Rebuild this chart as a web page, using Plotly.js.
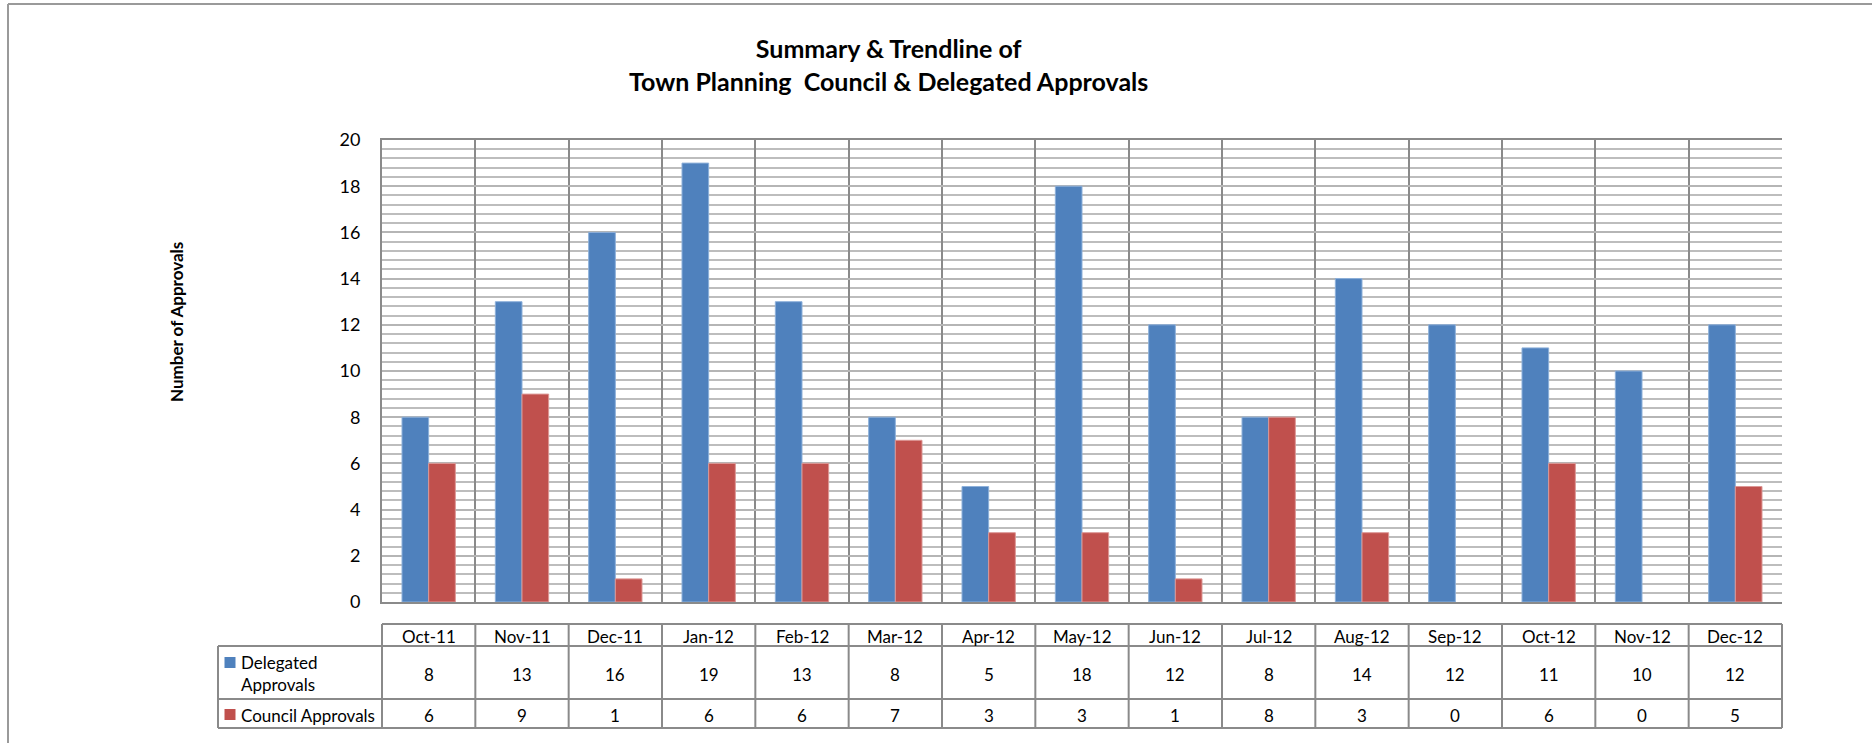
<!DOCTYPE html>
<html>
<head>
<meta charset="utf-8">
<script src="https://cdn.plot.ly/plotly-3.0.1.min.js"></script>
<style>
  html, body { margin: 0; padding: 0; background: #fff; }
  #chart { width: 1872px; height: 743px; }
</style>
</head>
<body>
<div id="chart"></div>
<script>
// ---- data ----
const categories = ["Oct-11","Nov-11","Dec-11","Jan-12","Feb-12","Mar-12","Apr-12","May-12","Jun-12","Jul-12","Aug-12","Sep-12","Oct-12","Nov-12","Dec-12"];
const delegatedApprovals = [8, 13, 16, 19, 13, 8, 5, 18, 12, 8, 14, 12, 11, 10, 12];
const councilApprovals   = [6, 9, 1, 6, 6, 7, 3, 3, 1, 8, 3, 0, 6, 0, 5];
const seriesNames = ["Delegated Approvals", "Council Approvals"];
const legendLabels = ["Delegated<br>Approvals", "Council Approvals"];
const yTicks = [0, 2, 4, 6, 8, 10, 12, 14, 16, 18, 20];
const titleLines = ["Summary & Trendline of", "Town Planning  Council & Delegated Approvals"];
const yTitle = "Number of Approvals";

// ---- styling ----
const FONT = "Lato, 'Open Sans', sans-serif";
const BLUE = "#4F81BD", RED = "#C0504D";
const W = 1872, H = 743;
const M = { l: 382, r: 90, t: 140, b: 141 };
const plotW = W - M.l - M.r, plotH = H - M.t - M.b;
const py = (pix) => (H - M.b - pix) / plotH;      // pixel y -> paper y
const px = (pix) => (pix - M.l) / plotW;          // pixel x -> paper x
const edgeWidths = (vals) => vals.map(v => (v > 0 ? 1 : 0));

const traces = [
  { type: "bar", name: seriesNames[0], x: categories, y: delegatedApprovals,
    marker: { color: BLUE, line: { color: "#8DB0DA", width: edgeWidths(delegatedApprovals) } }, hoverinfo: "y" },
  { type: "bar", name: seriesNames[1], x: categories, y: councilApprovals,
    marker: { color: RED, line: { color: "#DC9795", width: edgeWidths(councilApprovals) } }, hoverinfo: "y" }
];

// ---- data table (below the plot) ----
const LINE = { color: "#8a8a8a", width: 2 };
const n = categories.length;
const headTop = py(624), headBot = py(646), row1Bot = py(699), row2Bot = py(728);
const legLeft = px(218);
const shapes = [];
shapes.push({ type: "line", xref: "paper", yref: "paper", x0: 0, x1: 1, y0: headTop, y1: headTop, line: LINE });
shapes.push({ type: "line", xref: "paper", yref: "paper", x0: legLeft, x1: 1, y0: headBot, y1: headBot, line: LINE });
shapes.push({ type: "line", xref: "paper", yref: "paper", x0: legLeft, x1: 1, y0: row1Bot, y1: row1Bot, line: LINE });
shapes.push({ type: "line", xref: "paper", yref: "paper", x0: legLeft, x1: 1, y0: row2Bot, y1: row2Bot, line: LINE });
for (let i = 0; i <= n; i++) {
  shapes.push({ type: "line", xref: "paper", yref: "paper", x0: i / n, x1: i / n, y0: headTop, y1: row2Bot, line: LINE });
}
shapes.push({ type: "line", xref: "paper", yref: "paper", x0: legLeft, x1: legLeft, y0: headBot, y1: row2Bot, line: LINE });
const keyX0 = px(224.5), keyX1 = px(235.5);
shapes.push({ type: "rect", xref: "paper", yref: "paper", x0: keyX0, x1: keyX1, y0: py(657), y1: py(668), fillcolor: BLUE, line: { width: 0 } });
shapes.push({ type: "rect", xref: "paper", yref: "paper", x0: keyX0, x1: keyX1, y0: py(709), y1: py(720), fillcolor: RED, line: { width: 0 } });
shapes.push({ type: "line", xref: "paper", yref: "paper", x0: px(8), x1: px(1880), y0: py(4), y1: py(4), line: { color: "#9a9a9a", width: 2 } });
shapes.push({ type: "line", xref: "paper", yref: "paper", x0: px(8), x1: px(8), y0: py(4), y1: py(750), line: { color: "#9a9a9a", width: 2 } });

const tf = { family: FONT, size: 17, color: "#000" };
const annotations = [];
categories.forEach((c, i) => {
  annotations.push({ xref: "x", yref: "paper", x: c, y: py(636), text: c, showarrow: false, font: tf, xanchor: "center", yanchor: "middle" });
  annotations.push({ xref: "x", yref: "paper", x: c, y: py(674), text: String(delegatedApprovals[i]), showarrow: false, font: tf, xanchor: "center", yanchor: "middle" });
  annotations.push({ xref: "x", yref: "paper", x: c, y: py(715), text: String(councilApprovals[i]), showarrow: false, font: tf, xanchor: "center", yanchor: "middle" });
});
annotations.push({ xref: "paper", yref: "paper", x: px(239), y: py(673.5), text: legendLabels[0], showarrow: false, font: tf, xanchor: "left", yanchor: "middle", align: "left" });
annotations.push({ xref: "paper", yref: "paper", x: px(239), y: py(715), text: legendLabels[1], showarrow: false, font: tf, xanchor: "left", yanchor: "middle", align: "left" });
annotations.push({ xref: "paper", yref: "paper", x: px(888), y: py(65), text: "<b>" + titleLines.join("<br>") + "</b>", showarrow: false, font: { family: FONT, size: 25, color: "#000" }, xanchor: "center", yanchor: "middle", align: "center" });
annotations.push({ xref: "paper", yref: "paper", x: px(176), y: py(322), text: "<b>" + yTitle + "</b>", textangle: -90, showarrow: false, font: { family: FONT, size: 17, color: "#000" }, xanchor: "center", yanchor: "middle" });

const layout = {
  width: W, height: H,
  margin: M,
  paper_bgcolor: "#fff", plot_bgcolor: "#fff",
  showlegend: false,
  barmode: "group", bargap: 0.4286, bargroupgap: 0,
  font: { family: FONT, size: 17, color: "#000" },
  xaxis: {
    type: "category", range: [-0.5, n - 0.5],
    tickson: "boundaries", showgrid: true, gridcolor: "#8a8a8a", gridwidth: 2,
    ticks: "", showticklabels: false, zeroline: false,
    showline: true, linecolor: "#8a8a8a", linewidth: 2, mirror: true
  },
  yaxis: {
    range: [0, 20], tickvals: yTicks, ticktext: yTicks.map(String),
    showgrid: true, gridcolor: "#b5b5b5", gridwidth: 2,
    minor: { dtick: 0.4, tick0: 0, showgrid: true, gridcolor: "#bdbdbd", gridwidth: 2 },
    zeroline: false, ticks: "", ticklabelstandoff: 16,
    showline: true, linecolor: "#8a8a8a", linewidth: 2,
    tickfont: { family: FONT, size: 18, color: "#000" }
  },
  shapes: shapes,
  annotations: annotations
};

Plotly.newPlot("chart", traces, layout, { displayModeBar: false, staticPlot: true });
</script>
</body>
</html>
